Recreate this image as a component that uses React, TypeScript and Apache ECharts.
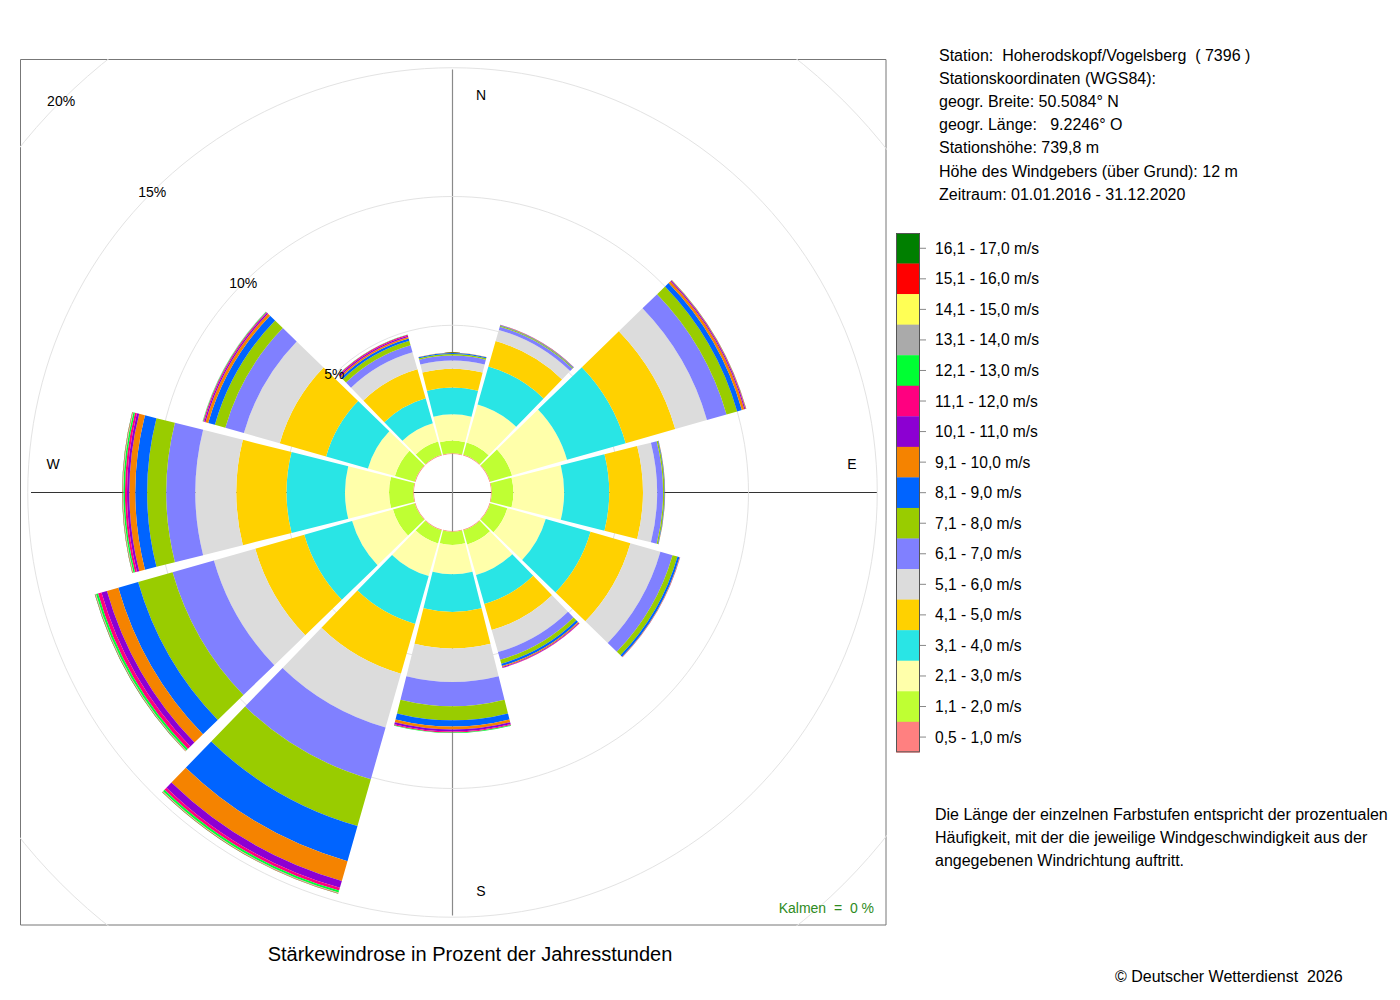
import React, { useEffect, useRef } from "react";
import * as echarts from "echarts";

// ---------- data ----------
// wind directions (sector centres, degrees from north, clockwise)
const directions = ["0°", "30°", "60°", "90°", "120°", "150°", "180°", "210°", "240°", "270°", "300°", "330°"];

// speed classes (bottom to top of the stack)
const speedClasses = [
  "0,5 - 1,0 m/s", "1,1 - 2,0 m/s", "2,1 - 3,0 m/s", "3,1 - 4,0 m/s", "4,1 - 5,0 m/s",
  "5,1 - 6,0 m/s", "6,1 - 7,0 m/s", "7,1 - 8,0 m/s", "8,1 - 9,0 m/s", "9,1 - 10,0 m/s",
  "10,1 - 11,0 m/s", "11,1 - 12,0 m/s", "12,1 - 13,0 m/s", "13,1 - 14,0 m/s", "14,1 - 15,0 m/s",
  "15,1 - 16,0 m/s", "16,1 - 17,0 m/s",
];
const classColors = [
  "#FF8080", "#BFFF33", "#FFFFAA", "#29E5E5", "#FFD100",
  "#DCDCDC", "#8080FF", "#99CC00", "#0064FF", "#F58300",
  "#8C00D2", "#FF0080", "#00FF33", "#AAAAAA", "#FFFF55",
  "#FF0000", "#007F00",
];

// percentage of annual hours per direction (order as `directions`)
const s0510 = [0.03, 0.03, 0.03, 0.03, 0.03, 0.03, 0.03, 0.03, 0.03, 0.03, 0.03, 0.03];
const s1120 = [0.49, 0.49, 0.88, 0.84, 0.69, 0.57, 0.51, 0.53, 0.88, 0.94, 0.80, 0.53];
const s2130 = [1.02, 1.54, 2.22, 1.97, 1.55, 1.24, 1.14, 1.32, 1.65, 1.71, 1.09, 0.74];
const s3140 = [1.04, 1.53, 2.37, 1.75, 1.81, 1.17, 1.46, 1.93, 1.93, 2.27, 1.69, 1.01];
const s4150 = [0.73, 1.03, 2.00, 1.31, 1.61, 1.05, 1.42, 2.01, 1.98, 1.95, 1.87, 1.17];
const s5160 = [0.32, 0.45, 1.28, 0.55, 1.21, 0.89, 1.30, 2.17, 1.67, 1.59, 1.45, 0.69];
const s6170 = [0.19, 0.13, 0.79, 0.23, 0.49, 0.31, 0.94, 2.09, 1.67, 1.13, 0.75, 0.28];
const s7180 = [0.06, 0.04, 0.43, 0.05, 0.20, 0.16, 0.55, 1.89, 1.39, 0.74, 0.42, 0.18];
const s8190 = [0.04, 0.02, 0.19, 0.02, 0.08, 0.09, 0.24, 1.42, 0.80, 0.46, 0.27, 0.09];
const s91100 = [0.01, 0.01, 0.10, 0.01, 0.02, 0.04, 0.11, 0.80, 0.46, 0.23, 0.11, 0.06];
const s101110 = [0, 0.01, 0.04, 0, 0.01, 0.03, 0.08, 0.28, 0.22, 0.09, 0.05, 0.05];
const s111120 = [0, 0, 0.02, 0, 0, 0.01, 0.04, 0.11, 0.14, 0.08, 0.04, 0.04];
const s121130 = [0, 0, 0.01, 0, 0, 0, 0.02, 0.08, 0.08, 0.06, 0.02, 0.01];
const s131140 = [0, 0, 0, 0, 0, 0, 0, 0.02, 0.02, 0.02, 0.01, 0];
const s141150 = [0, 0, 0, 0, 0, 0, 0, 0.01, 0.01, 0.01, 0, 0];
const s151160 = [0, 0, 0.01, 0, 0, 0, 0, 0.01, 0.01, 0.01, 0, 0];
const s161170 = [0, 0, 0, 0, 0, 0, 0, 0.01, 0.01, 0.01, 0, 0];

const classValues = [
  s0510, s1120, s2130, s3140, s4150, s5160, s6170, s7180, s8190,
  s91100, s101110, s111120, s121130, s131140, s141150, s151160, s161170,
];

const radiusMax = 20;
const radiusStep = 5;

const compassLabels = ["N", "E", "S", "W"];

const stationLines = [
  "Station:  Hoherodskopf/Vogelsberg  ( 7396 )",
  "Stationskoordinaten (WGS84):",
  "geogr. Breite: 50.5084° N",
  "geogr. Länge:   9.2246° O",
  "Stationshöhe: 739,8 m",
  "Höhe des Windgebers (über Grund): 12 m",
  "Zeitraum: 01.01.2016 - 31.12.2020",
];
const descriptionLines = [
  "Die Länge der einzelnen Farbstufen entspricht der prozentualen",
  "Häufigkeit, mit der die jeweilige Windgeschwindigkeit aus der",
  "angegebenen Windrichtung auftritt.",
];
const titleText = "Stärkewindrose in Prozent der Jahresstunden";
const calmText = "Kalmen  =  0 %";
const copyrightText = "© Deutscher Wetterdienst  2026";

// ---------- layout ----------
const FONT = "'Liberation Sans', Arial, Helvetica, sans-serif";
const BOX_W = 867;
const CX = 432.5;
const CY = 433.5;
const R_INNER = 38.5;
const R_OUTER = 38.5 + 25.75 * radiusMax;
const CROSS = 423;

function buildRoseOption() {
  const compassPos: Record<string, [number, number]> = {
    N: [CX + 28.5, CY - 398],
    S: [CX + 28.5, CY + 398],
    E: [CX + 399.5, CY - 29],
    W: [CX - 399.5, CY - 29],
  };
  const graphics: any[] = [
    {
      type: "rect",
      z: 0,
      shape: { x: 0.5, y: 0.5, width: BOX_W - 1.5, height: BOX_W - 1.5 },
      style: { fill: "none", stroke: "#777777", lineWidth: 1 },
      silent: true,
    },
    {
      type: "line",
      z: 0,
      shape: { x1: CX - CROSS + 1.5, y1: CY, x2: CX + CROSS + 1.5, y2: CY },
      style: { stroke: "#333333", lineWidth: 1 },
      silent: true,
    },
    {
      type: "line",
      z: 0,
      shape: { x1: CX, y1: CY - CROSS, x2: CX, y2: CY + CROSS },
      style: { stroke: "#8a8a8a", lineWidth: 1.2 },
      silent: true,
    },
    ...compassLabels.map((c) => ({
      type: "text",
      z: 100,
      x: compassPos[c][0],
      y: compassPos[c][1],
      style: {
        text: c,
        fill: "#000",
        fontSize: 14,
        fontFamily: FONT,
        textAlign: "center",
        textVerticalAlign: "middle",
      },
      silent: true,
    })),
    {
      type: "text",
      z: 100,
      x: 854,
      y: 849,
      style: {
        text: calmText,
        fill: "#2E8B22",
        fontSize: 14,
        fontFamily: FONT,
        textAlign: "right",
        textVerticalAlign: "middle",
      },
      silent: true,
    },
  ];

  return {
    animation: false,
    polar: [
      { center: [CX, CY], radius: [R_INNER, R_OUTER] },
      { center: [CX, CY], radius: [R_INNER, R_OUTER] },
    ],
    angleAxis: [
      {
        polarIndex: 0,
        type: "category",
        data: directions,
        startAngle: 105,
        clockwise: true,
        boundaryGap: true,
        axisLine: { show: false },
        axisTick: { show: false },
        axisLabel: { show: false },
        splitLine: { show: false },
      },
      {
        polarIndex: 1,
        type: "value",
        min: 0,
        max: 360,
        startAngle: 135,
        show: false,
      },
    ],
    radiusAxis: [
      {
        polarIndex: 0,
        type: "value",
        min: 0,
        max: radiusMax,
        interval: radiusStep,
        z: 0,
        axisLine: { show: false },
        axisTick: { show: false },
        axisLabel: { show: false },
        splitLine: {
          show: true,
          lineStyle: {
            color: ["rgba(0,0,0,0)", "#E3E3E3", "#E3E3E3", "#E3E3E3", "#E3E3E3"],
            width: 1,
          },
        },
      },
      {
        polarIndex: 1,
        type: "value",
        min: 0,
        max: radiusMax,
        interval: radiusStep,
        z: 20,
        axisLine: { show: false },
        axisTick: { show: false },
        splitLine: { show: false },
        axisLabel: {
          show: true,
          margin: 0,
          align: "center",
          verticalAlign: "middle",
          fontSize: 14,
          fontFamily: FONT,
          color: "#000",
          formatter: (v: number) => (v === 0 ? "" : v + "%"),
        },
      },
    ],
    graphic: graphics,
    series: classValues.map((vals, i) => ({
      type: "bar",
      name: speedClasses[i],
      coordinateSystem: "polar",
      polarIndex: 0,
      stack: "wind",
      data: vals,
      barCategoryGap: "6%",
      itemStyle: { color: classColors[i] },
      silent: true,
      z: 2,
    })),
  };
}

function buildPageOption() {
  const LEG_X = 896;
  const LEG_Y = 233;
  const LEG_W = 24;
  const LEG_H = 30.55;
  const n = speedClasses.length;
  const elems: any[] = [];

  stationLines.forEach((t, i) => {
    elems.push({
      type: "text",
      x: 939,
      y: 55 + i * 23.2,
      style: { text: t, fill: "#000", fontSize: 16, fontFamily: FONT, textAlign: "left", textVerticalAlign: "middle" },
      silent: true,
    });
  });

  for (let row = 0; row < n; row++) {
    const cls = n - 1 - row;
    const y = LEG_Y + row * LEG_H;
    elems.push({
      type: "rect",
      shape: { x: LEG_X, y, width: LEG_W, height: LEG_H + 0.3 },
      style: { fill: classColors[cls], stroke: "none" },
      silent: true,
    });
    elems.push({
      type: "line",
      shape: { x1: LEG_X + LEG_W, y1: y + LEG_H / 2, x2: LEG_X + LEG_W + 6, y2: y + LEG_H / 2 },
      style: { stroke: "#888888", lineWidth: 1 },
      silent: true,
    });
    elems.push({
      type: "text",
      x: 935,
      y: y + LEG_H / 2,
      style: { text: speedClasses[cls], fill: "#000", fontSize: 15.6, fontFamily: FONT, textAlign: "left", textVerticalAlign: "middle" },
      silent: true,
    });
  }
  elems.push({
    type: "rect",
    shape: { x: LEG_X + 0.5, y: LEG_Y + 0.5, width: LEG_W - 1, height: LEG_H * n - 1 },
    style: { fill: "none", stroke: "#555555", lineWidth: 1 },
    silent: true,
  });

  descriptionLines.forEach((t, i) => {
    elems.push({
      type: "text",
      x: 935,
      y: 814 + i * 23,
      style: { text: t, fill: "#000", fontSize: 16, fontFamily: FONT, textAlign: "left", textVerticalAlign: "middle" },
      silent: true,
    });
  });

  elems.push({
    type: "text",
    x: 470,
    y: 954,
    style: { text: titleText, fill: "#000", fontSize: 20, fontFamily: FONT, textAlign: "center", textVerticalAlign: "middle" },
    silent: true,
  });
  elems.push({
    type: "text",
    x: 1115,
    y: 976,
    style: { text: copyrightText, fill: "#000", fontSize: 16, fontFamily: FONT, textAlign: "left", textVerticalAlign: "middle" },
    silent: true,
  });

  return { animation: false, graphic: elems };
}

export default function App() {
  const pageRef = useRef<HTMLDivElement>(null);
  const roseRef = useRef<HTMLDivElement>(null);

  useEffect(() => {
    const page = echarts.init(pageRef.current!, undefined, { renderer: "svg" });
    page.setOption(buildPageOption() as any);
    const rose = echarts.init(roseRef.current!, undefined, { renderer: "svg" });
    rose.setOption(buildRoseOption() as any);
    return () => {
      rose.dispose();
      page.dispose();
    };
  }, []);

  return (
    <div style={{ position: "absolute", left: 0, top: 0, width: 1400, height: 1000, background: "#fff" }}>
      <div ref={pageRef} style={{ position: "absolute", left: 0, top: 0, width: 1400, height: 1000 }} />
      <div
        ref={roseRef}
        style={{ position: "absolute", left: 20, top: 59, width: BOX_W, height: BOX_W, overflow: "hidden" }}
      />
    </div>
  );
}
